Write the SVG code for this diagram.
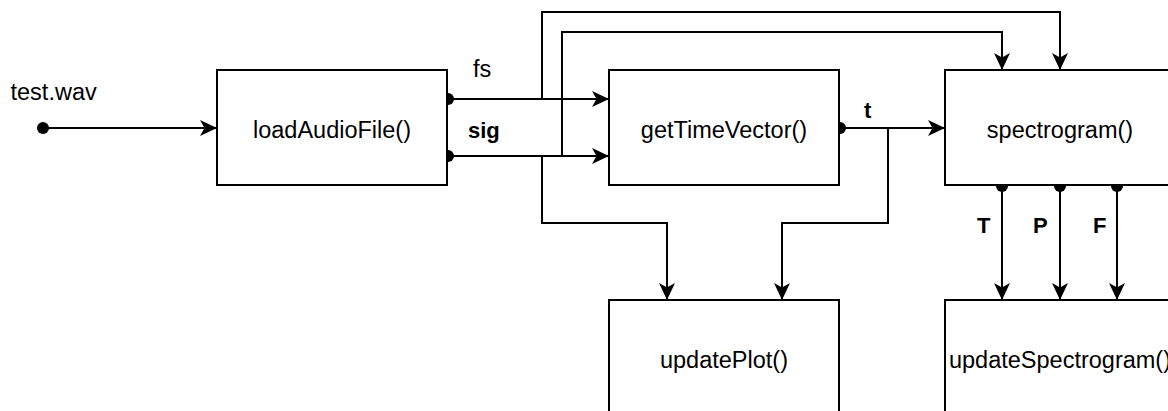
<svg xmlns="http://www.w3.org/2000/svg" width="1168" height="411" viewBox="0 0 1168 411">
  <style>
    .box { fill: #ffffff; stroke: #000000; stroke-width: 2; }
    .wire { fill: none; stroke: #000000; stroke-width: 2; }
    .lbl { font-family: "Liberation Sans", Arial, sans-serif; font-size: 23.5px; fill: #000000; }
    .name { font-family: "Liberation Sans", Arial, sans-serif; font-size: 23.5px; fill: #000000; text-anchor: middle; }
    .sig { font-family: "Liberation Sans", Arial, sans-serif; font-size: 22px; font-weight: bold; fill: #000000; }
    .dot { fill: #000000; }
  </style>
  <defs>
    <marker id="arrow" viewBox="-18 -9 20 18" refX="0" refY="0" markerWidth="20" markerHeight="18" markerUnits="userSpaceOnUse" orient="auto">
      <path d="M0,0 L-17,-8 L-12.5,0 L-17,8 Z" fill="#000000"/>
    </marker>
  </defs>

  <!-- connectors -->
  <g id="connectors">
    <!-- file input -->
    <circle class="dot" cx="43" cy="128" r="6"/>
    <path class="wire" d="M43,128 H217" marker-end="url(#arrow)"/>

    <!-- fs and sig outputs of loadAudioFile -->
    <circle class="dot" cx="448" cy="99" r="6"/>
    <circle class="dot" cx="448" cy="156" r="6"/>
    <path class="wire" d="M447,99 H609" marker-end="url(#arrow)"/>
    <path class="wire" d="M447,156 H609" marker-end="url(#arrow)"/>

    <!-- fs to spectrogram (outer route) -->
    <path class="wire" d="M542,99 V12 H1060 V70" marker-end="url(#arrow)"/>
    <!-- sig to spectrogram (inner route) -->
    <path class="wire" d="M562,156 V32 H1002 V70" marker-end="url(#arrow)"/>
    <!-- sig to updatePlot -->
    <path class="wire" d="M542,156 V223 H667 V300" marker-end="url(#arrow)"/>

    <!-- t from getTimeVector -->
    <circle class="dot" cx="840" cy="128" r="6"/>
    <path class="wire" d="M839,128 H945" marker-end="url(#arrow)"/>
    <path class="wire" d="M888,128 V223 H782 V300" marker-end="url(#arrow)"/>

    <!-- T, P, F from spectrogram -->
    <circle class="dot" cx="1002" cy="186" r="6"/>
    <circle class="dot" cx="1060" cy="186" r="6"/>
    <circle class="dot" cx="1117" cy="186" r="6"/>
    <path class="wire" d="M1002,185 V300" marker-end="url(#arrow)"/>
    <path class="wire" d="M1060,185 V300" marker-end="url(#arrow)"/>
    <path class="wire" d="M1117,185 V300" marker-end="url(#arrow)"/>

    <!-- labels -->
    <text class="lbl" x="10.5" y="100">test.wav</text>
    <text class="lbl" x="473" y="77">fs</text>
    <text class="sig" x="468" y="138">sig</text>
    <text class="sig" x="864" y="118">t</text>
    <text class="sig" x="977" y="233">T</text>
    <text class="sig" x="1033" y="233">P</text>
    <text class="sig" x="1093" y="233">F</text>
  </g>

  <!-- processing blocks -->
  <g id="loadAudioFile">
    <rect class="box" x="217" y="70" width="230" height="115"/>
    <text class="name" x="332" y="138">loadAudioFile()</text>
  </g>
  <g id="getTimeVector">
    <rect class="box" x="609" y="70" width="230" height="115"/>
    <text class="name" x="724" y="138">getTimeVector()</text>
  </g>
  <g id="spectrogram">
    <rect class="box" x="945" y="70" width="230" height="115"/>
    <text class="name" x="1060" y="137.5">spectrogram()</text>
  </g>
  <g id="updatePlot">
    <rect class="box" x="609" y="300" width="230" height="116"/>
    <text class="name" x="724" y="368">updatePlot()</text>
  </g>
  <g id="updateSpectrogram">
    <rect class="box" x="945" y="300" width="230" height="116"/>
    <text class="name" x="1060" y="368">updateSpectrogram()</text>
  </g>
</svg>
